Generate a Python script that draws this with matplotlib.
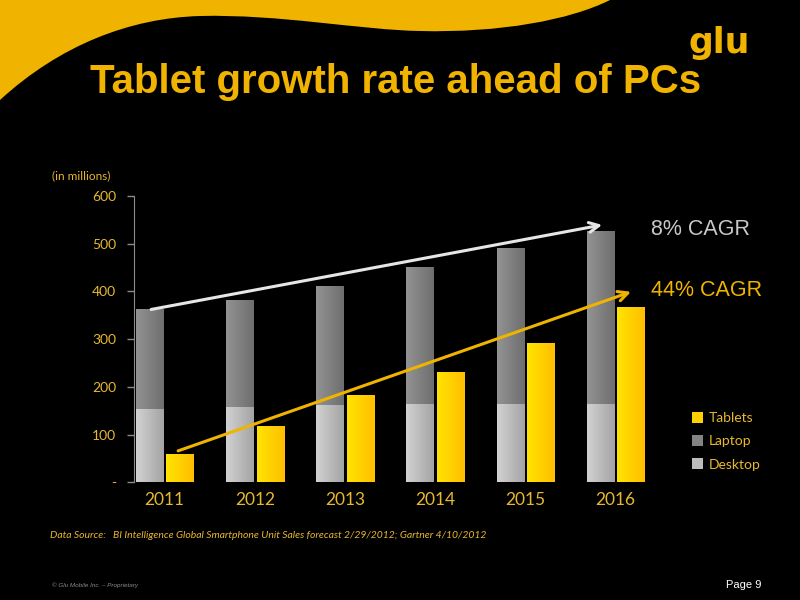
"""Tablet vs PC shipments slide."""

import numpy as np
import matplotlib
matplotlib.use("Agg")
from matplotlib import pyplot as plt
from matplotlib.path import Path
from matplotlib.patches import PathPatch, Patch

# data (millions of units)
years = ["2011", "2012", "2013", "2014", "2015", "2016"]
desktop = [153, 158, 162, 164, 165, 165]
laptop = [210, 223, 250, 287, 325, 362]
tablets = [59, 119, 182, 231, 292, 368]
y_ticks = [0, 100, 200, 300, 400, 500, 600]
y_tick_labels = ["-", "100", "200", "300", "400", "500", "600"]

# trend arrows (start/end in data units)
pc_arrow = [(-0.15, 362), (4.85, 539)]
tab_arrow = [(0.15, 66), (5.17, 399)]

YELLOW = "#F0B400"
LABEL = "#E8B830"
BODY_FONT = ["Lato", "DejaVu Sans"]


def gradient_bars(ax, bars, c_left, c_right):
    """Fill each bar with a left-to-right colour gradient."""
    c1 = np.array(matplotlib.colors.to_rgb(c_left))
    c2 = np.array(matplotlib.colors.to_rgb(c_right))
    t = np.linspace(0, 1, 64)[None, :, None]
    img = c1 + (c2 - c1) * t
    for b in bars:
        x0, y0 = b.get_x(), b.get_y()
        w, h = b.get_width(), b.get_height()
        im = ax.imshow(img, extent=(x0, x0 + w, y0, y0 + h), aspect="auto",
                       origin="lower", zorder=2, interpolation="bilinear")
        im.set_clip_path(b)


fig = plt.figure(figsize=(8, 6), dpi=100, facecolor="black")

# background wave
bg = fig.add_axes([0, 0, 1, 1], zorder=-1)
bg.set_xlim(0, 800)
bg.set_ylim(600, 0)
bg.axis("off")
verts = [(0, 100), (60, 45), (130, 18), (200, 16),
         (280, 14), (360, 30), (420, 31),
         (500, 33), (570, 20), (610, 0),
         (0, 0), (0, 100)]
codes = [Path.MOVETO] + [Path.CURVE4] * 9 + [Path.LINETO, Path.CLOSEPOLY]
bg.add_patch(PathPatch(Path(verts, codes), facecolor=YELLOW, edgecolor="none"))

# title and logo
fig.text(0.494, 0.845, "Tablet growth rate ahead of PCs", color=YELLOW,
         fontsize=29, fontweight="bold", ha="center", va="baseline",
         family=["Liberation Sans Narrow", "Liberation Sans"])
fig.text(0.899, 0.928, "glu", color=YELLOW, fontsize=25, fontweight="bold",
         ha="center", va="center", family=["DejaVu Sans"])

# chart
ax = fig.add_axes([0.168, 0.196, 0.658, 0.4777])
ax.set_facecolor("black")
x = np.arange(len(years))
w = 0.30
off = 0.17
b_desk = ax.bar(x - off, desktop, w, color="#BDBDBD", zorder=1)
b_lap = ax.bar(x - off, laptop, w, bottom=desktop, color="#838383", zorder=1)
b_tab = ax.bar(x + off, tablets, w, color="#FFD000", zorder=1)
gradient_bars(ax, b_desk, "#D2D2D2", "#A4A4A4")
gradient_bars(ax, b_lap, "#939393", "#6E6E6E")
gradient_bars(ax, b_tab, "#FFE400", "#FFBE00")

ax.set_xlim(-0.335, 5.5)
ax.set_ylim(0, 600)
ax.set_xticks(x)
ax.set_xticklabels(years, fontsize=12.5, color=LABEL, family=BODY_FONT)
ax.set_yticks(y_ticks)
ax.set_yticklabels(y_tick_labels, fontsize=10, color=LABEL, family=BODY_FONT)
ax.tick_params(axis="x", length=0, pad=7)
ax.tick_params(axis="y", length=5, color="#8C8C8C", width=1, pad=8)
for s in ["top", "right", "bottom"]:
    ax.spines[s].set_visible(False)
ax.spines["left"].set_color("#8C8C8C")

fig.text(0.065, 0.707, "(in millions)", color=LABEL, fontsize=8.5,
         ha="left", va="center", family=BODY_FONT)

# trend arrows
ax.annotate("", xy=pc_arrow[1], xytext=pc_arrow[0],
            arrowprops=dict(arrowstyle="->,head_length=0.7,head_width=0.35",
                            color="#E6E6E6", lw=2.2, shrinkA=0, shrinkB=0),
            zorder=4, annotation_clip=False)
ax.annotate("", xy=tab_arrow[1], xytext=tab_arrow[0],
            arrowprops=dict(arrowstyle="->,head_length=0.7,head_width=0.35",
                            color=YELLOW, lw=2.2, shrinkA=0, shrinkB=0),
            zorder=4, annotation_clip=False)

fig.text(0.814, 0.617, "8% CAGR", color="#C8C8C8", fontsize=15.5,
         ha="left", va="center", family=["Liberation Sans"])
fig.text(0.814, 0.515, "44% CAGR", color=YELLOW, fontsize=15.5,
         ha="left", va="center", family=["Liberation Sans"])

handles = [Patch(facecolor="#FFD000"), Patch(facecolor="#838383"),
           Patch(facecolor="#BDBDBD")]
leg = fig.legend(handles, ["Tablets", "Laptop", "Desktop"], loc="upper left",
                 bbox_to_anchor=(0.856, 0.325), frameon=False,
                 prop={"family": BODY_FONT, "size": 10},
                 labelcolor=LABEL, handlelength=0.8, handleheight=0.8,
                 handletextpad=0.4, labelspacing=0.8, borderpad=0)

# footers
fig.text(0.063, 0.108, "Data Source:   BI Intelligence Global Smartphone Unit Sales forecast 2/29/2012; Gartner 4/10/2012",
         color=LABEL, fontsize=7.5, style="italic", ha="left", va="center",
         family=BODY_FONT)
fig.text(0.065, 0.024, "\u00a9 Glu Mobile Inc. \u2013 Proprietary", color="#8C8C8C",
         fontsize=4.5, style="italic", ha="left", va="center",
         family=["Liberation Sans"])
fig.text(0.952, 0.025, "Page 9", color="white", fontsize=8, ha="right",
         va="center", family=["Liberation Sans"])

fig.savefig("out.png", dpi=100, facecolor="black")
